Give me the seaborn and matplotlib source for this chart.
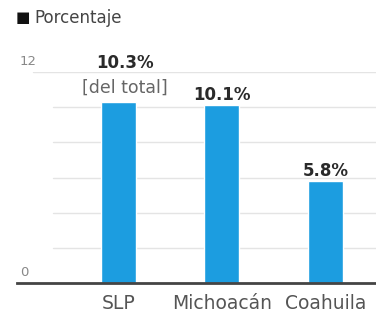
import matplotlib
matplotlib.use("Agg")
import matplotlib.pyplot as plt
import matplotlib.transforms as mtransforms
import seaborn as sns
import pandas as pd

estados = ["SLP", "Michoacán", "Coahuila"]
porcentaje = [10.3, 10.1, 5.8]
etiquetas = ["10.3%", "10.1%", "5.8%"]
grid_vals = [2, 4, 6, 8, 10, 12]
tick_vals = [0, 12]

sns.set_style("white")
plt.rcParams["font.family"] = ["DejaVu Sans"]

df = pd.DataFrame({"estado": estados, "pct": porcentaje})

fig = plt.figure(figsize=(3.76, 3.13), dpi=100)
ax = fig.add_axes([17 / 376, 30 / 313, 359 / 376, 211 / 313])

# lineas guia
for g in grid_vals:
    x0 = 0.045 if g == 12 else 0.1
    ax.axhline(g, xmin=x0, xmax=1, color="#e4e4e4", lw=1, zorder=0)

sns.barplot(data=df, x="estado", y="pct", color="#1c9de0", width=0.34,
            saturation=1, ax=ax, zorder=2)

ax.set_xlim(-0.98, 2.49)
ax.set_ylim(0, 12)
ax.set_xlabel("")
ax.set_ylabel("")
ax.set_yticks([])
ax.tick_params(axis="x", length=0, pad=8, labelsize=13.5, labelcolor="#555555")
for s in ["top", "right", "left"]:
    ax.spines[s].set_visible(False)
ax.spines["bottom"].set_color("#444444")
ax.spines["bottom"].set_linewidth(2)

trans = mtransforms.blended_transform_factory(ax.transAxes, ax.transData)
for t in tick_vals:
    ax.text(0.008, t + 0.4, str(t), transform=trans, fontsize=9.5,
            color="#888888", ha="left", va="baseline")

for i, (v, lab) in enumerate(zip(porcentaje, etiquetas)):
    x = i
    y = v + 0.3
    if i == 0:
        x = i + 0.06
        ax.text(x, v + 0.5, "[del total]", ha="center", va="baseline",
                fontsize=12.5, color="#666666", clip_on=False)
        y = v + 1.93
    ax.text(x, y, lab, ha="center", va="baseline", fontsize=12,
            fontweight="bold", color="#2a2a2a", clip_on=False)

fig.text(16 / 376, 1 - 18 / 313, "■", fontsize=11, color="#111111",
         va="center", ha="left")
fig.text(34 / 376, 1 - 18 / 313, "Porcentaje", fontsize=12,
         color="#444444", va="center", ha="left")

fig.savefig("out.png", dpi=100)
